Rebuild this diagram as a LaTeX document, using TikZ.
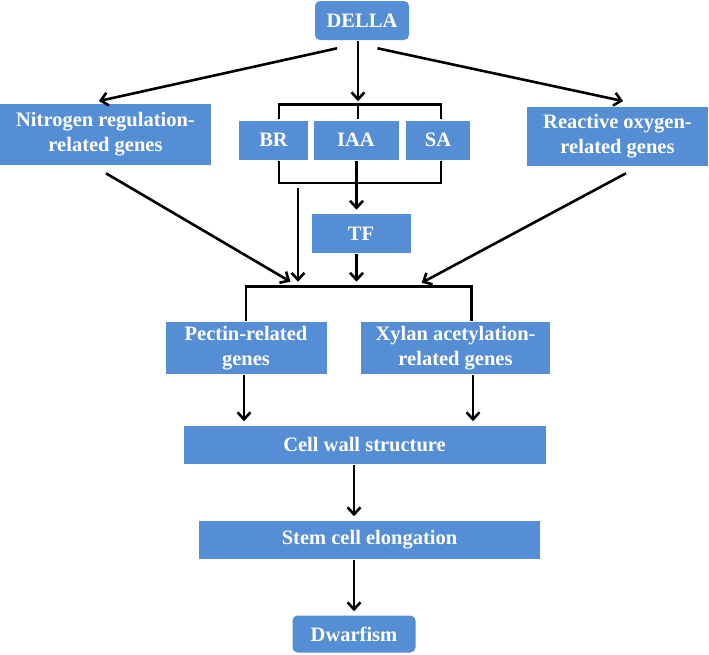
\documentclass[tikz,border=0pt]{standalone}
\usepackage{fontspec}
\setmainfont{Liberation Serif}
\usetikzlibrary{arrows.meta,calc}
\definecolor{boxblue}{RGB}{85,142,213}
\tikzset{
  box/.style={fill=boxblue, text=white, inner sep=0pt, align=center,
    font=\fontsize{20.5}{25}\selectfont\bfseries},
  arr/.style={-{Straight Barb[length=7pt,width=13pt]}, shorten >=3pt}
}
\begin{document}
\begin{tikzpicture}[x=1pt, y=-1pt, line width=2.6pt]
    \useasboundingbox (0,0) rectangle (709,654);

    % boxes
    \node[box, rounded corners=5pt, minimum width=94pt, minimum height=39pt] (della) at (362,20.5) {DELLA};
    \node[box, minimum width=211pt, minimum height=61pt] (nitro) at (105.5,134.5) {Nitrogen regulation-\\related genes};
    \node[box, minimum width=68.5pt, minimum height=39pt] (br) at (273.5,140) {BR};
    \node[box, minimum width=85pt, minimum height=39pt] (iaa) at (356,140) {IAA};
    \node[box, minimum width=64pt, minimum height=39pt] (sa) at (438,140) {SA};
    \node[box, minimum width=181pt, minimum height=59pt] (react) at (617.5,136.5) {Reactive oxygen-\\related genes};
    \node[box, minimum width=99pt, minimum height=39pt] (tf) at (361,233.5) {TF};
    \node[box, minimum width=161pt, minimum height=52pt] (pectin) at (246,348) {Pectin-related\\genes};
    \node[box, minimum width=189pt, minimum height=52pt] (xylan) at (455.5,348) {Xylan acetylation-\\related genes};
    \node[box, minimum width=362pt, minimum height=38pt] (wall) at (364.5,444.5) {Cell wall structure};
    \node[box, minimum width=341pt, minimum height=38pt] (stem) at (369.5,539.5) {Stem cell elongation};
    \node[box, rounded corners=5pt, minimum width=123pt, minimum height=37pt] (dwarf) at (354,634) {Dwarfism};

    % hormone brackets
    \coordinate (topmid) at ($(iaa.north)+(2,-15)$);
    \coordinate (iaafoot) at ($(iaa.south)+(0.5,0)$);
    \draw ($(br.north)+(5.5,0)$) -- ++(0,-15) -| ($(sa.north)+(3,0)$);
    \draw ($(iaa.north)+(2,0)$) -- (topmid);
    \draw ($(br.south)+(5.5,0)$) -- ++(0,22) -| ($(sa.south)+(3,0)$);

    % from DELLA
    \draw[arr] ($(della.south)+(-25,7)$) -- ($(nitro.north)+(-9.5,-1)$);
    \draw[arr] (topmid |- della.south) -- (topmid);
    \draw[arr] ($(della.south)+(15.5,7)$) -- ($(react.north)+(8.5,-4)$);

    % into the lower bracket
    \coordinate (joinL) at ($(pectin.north)+(0,-34.5)$);
    \coordinate (joinR) at ($(xylan.north)+(16,-34.5)$);
    \draw (pectin.north) -- (joinL) -- (joinR) -- ($(xylan.north)+(16,0)$);
    \draw[arr] (iaafoot) -- (iaafoot |- tf.north);
    \draw[arr] ($(nitro.south)+(0.5,7)$) -- ($(joinL)+(47,-3)$);
    \draw[arr, shorten >=4.5pt] ($(br.south)+(24.5,27)$) -- ($(joinL)+(52,0)$);
    \draw[arr, shorten >=4.5pt] ($(tf.south)+(-4.5,0)$) -- ($(joinL)+(110.5,0)$);
    \draw[arr] ($(react.south)+(8.5,6)$) -- ($(joinL)+(173,-2)$);

    % down to dwarfism
    \draw[arr] ($(pectin.south)+(-2,0)$) -- ($(wall.north)+(-120.5,0)$);
    \draw[arr] ($(xylan.south)+(17.5,0)$) -- ($(wall.north)+(108.5,0)$);
    \draw[arr] (dwarf.north |- wall.south) -- (dwarf.north |- stem.north);
    \draw[arr] (dwarf.north |- stem.south) -- (dwarf.north);
\end{tikzpicture}
\end{document}
